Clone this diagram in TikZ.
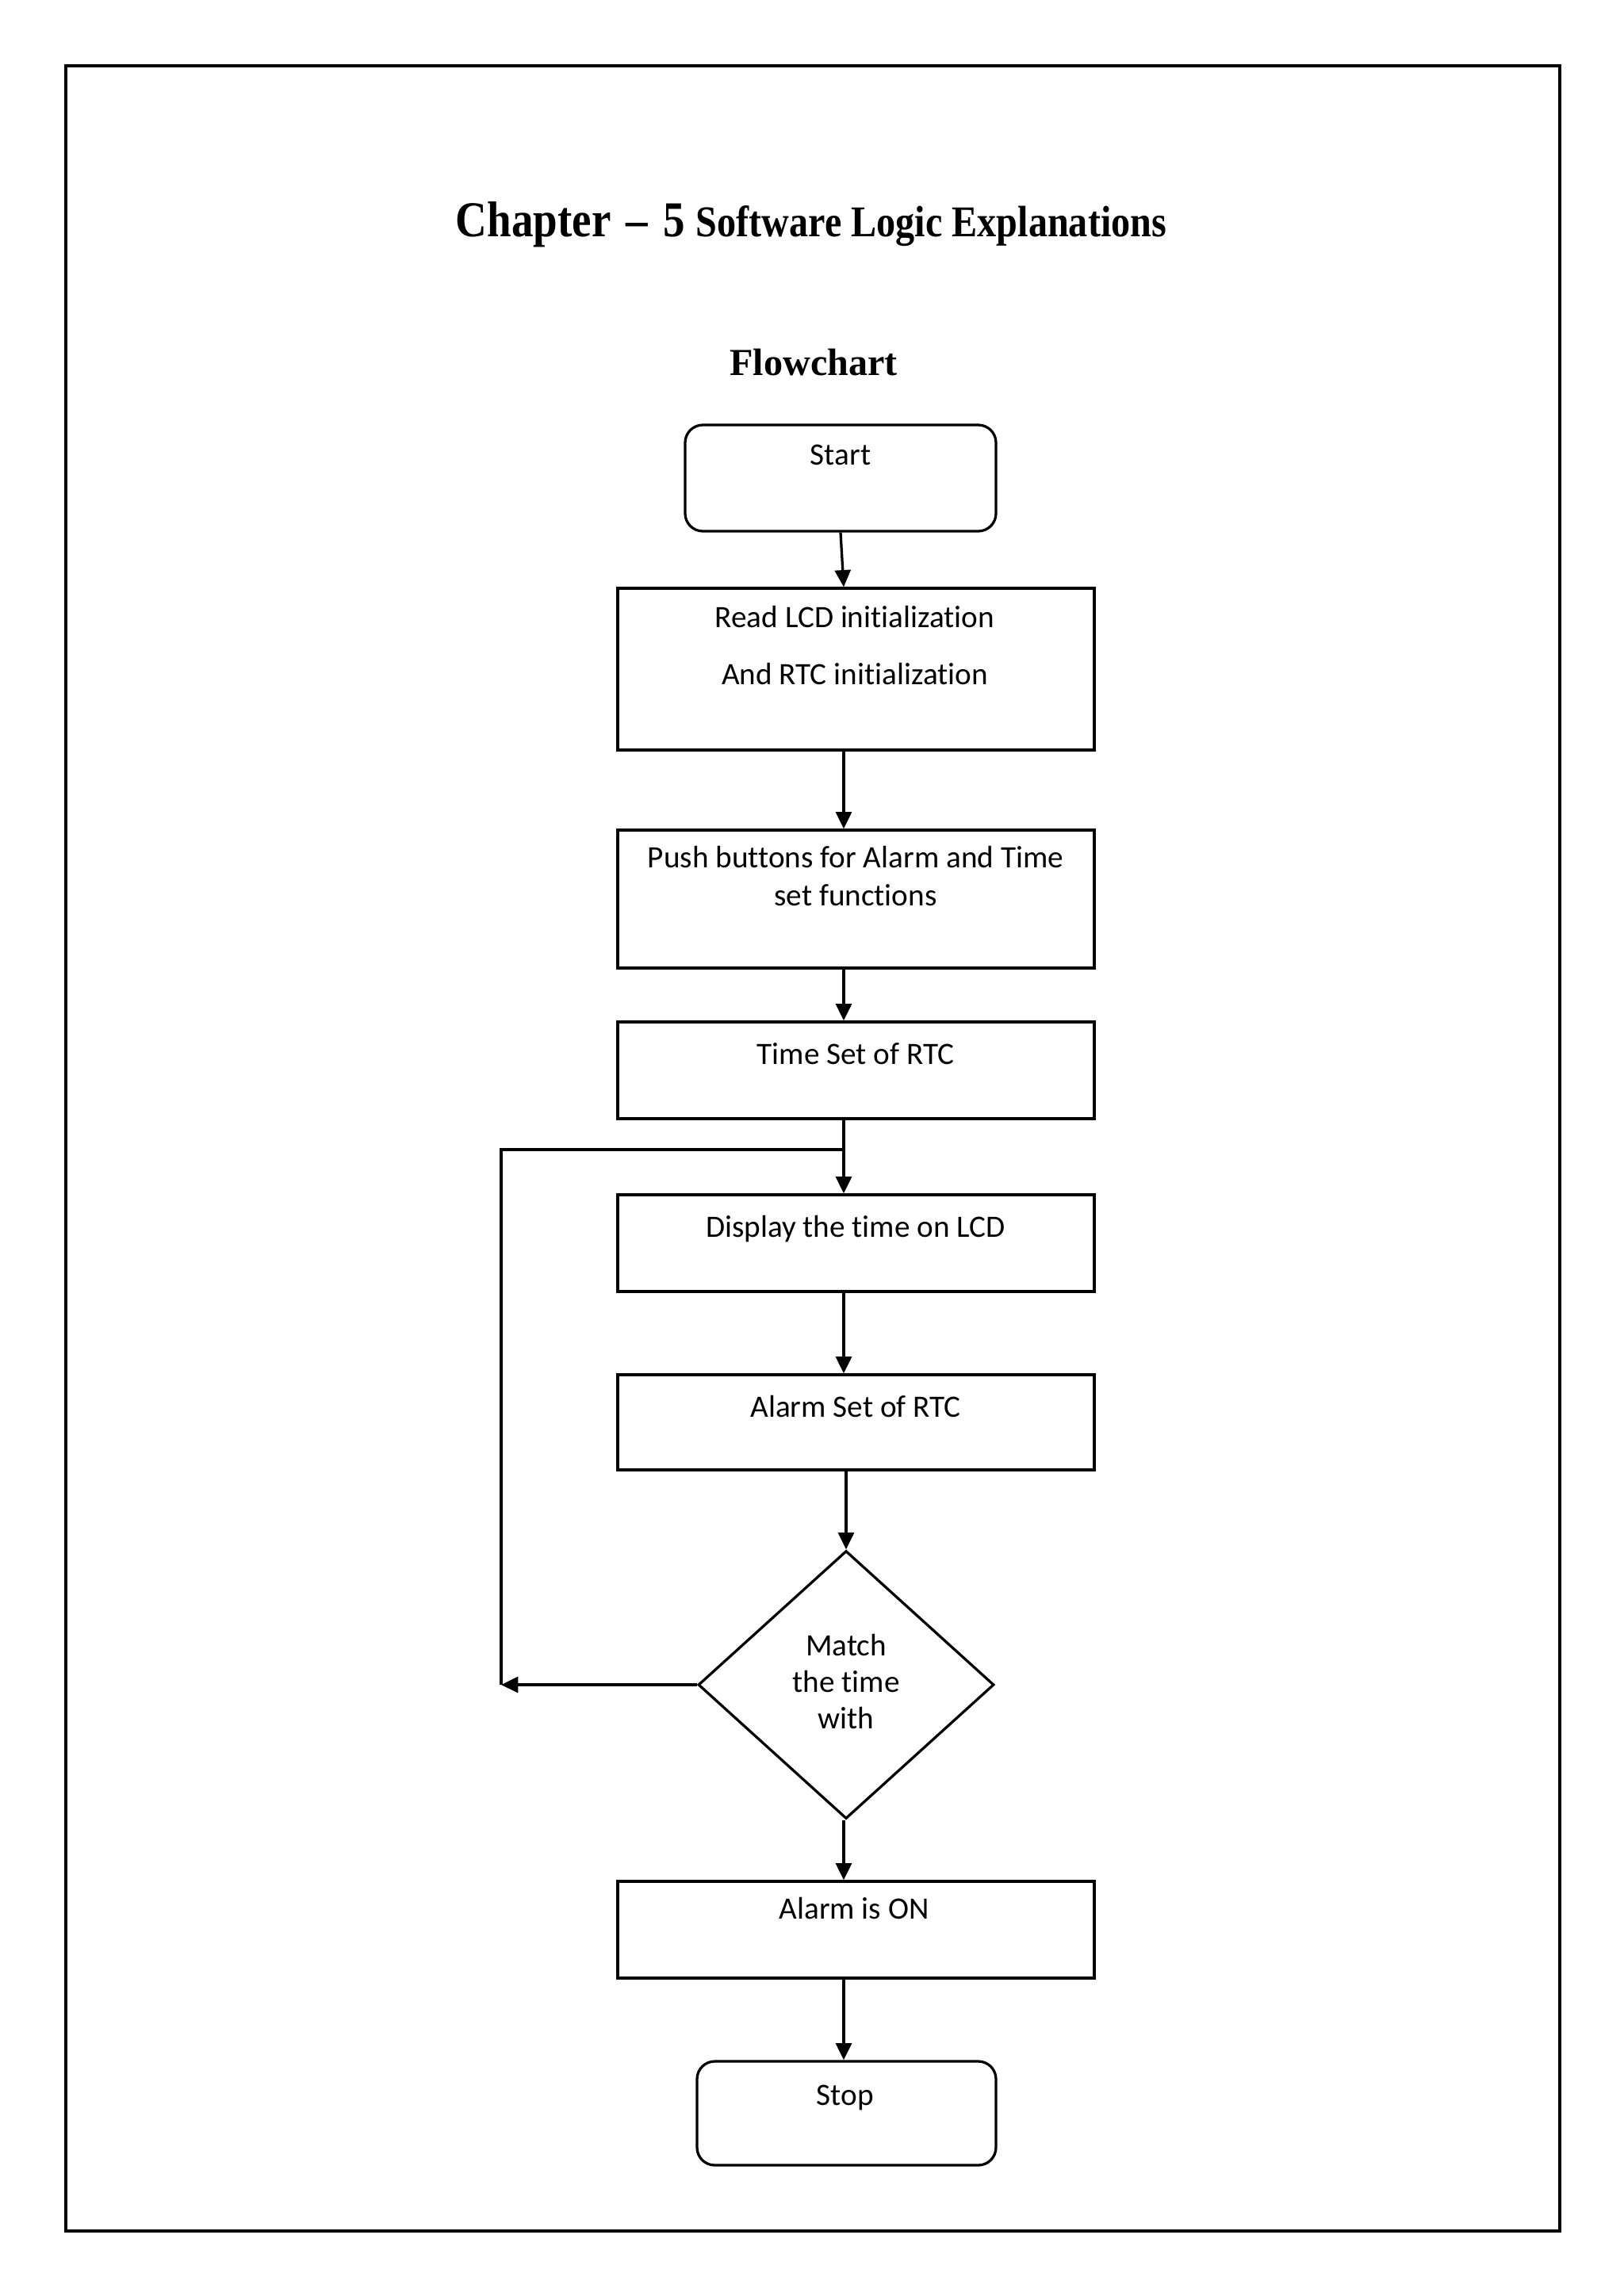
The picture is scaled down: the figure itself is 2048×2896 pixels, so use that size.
\documentclass[tikz,border=0pt]{standalone}
\usepackage{fontspec}
\setmainfont[RawFeature={-liga;-clig;-dlig}]{Carlito}
\newfontfamily\titlefont[Ligatures=TeX]{Liberation Serif}
\usetikzlibrary{arrows.meta,shapes.geometric}
\tikzset{
  boxline/.style={draw=black, line width=0.95pt},
  procbox/.style={boxline, rectangle, inner sep=0pt},
  termbox/.style={boxline, rectangle, rounded corners=6.5pt, inner sep=0pt},
  decbox/.style={boxline, diamond, inner sep=0pt},
  btxt/.style={anchor=base, inner sep=0pt, font=\fontsize{11.4}{13.8}\selectfont},
  arr/.style={line width=0.95pt, -{Triangle[length=6.2pt,width=5.8pt]}},
  plainline/.style={line width=0.95pt},
}
\begin{document}
\begin{tikzpicture}[x=0.2907pt, y=-0.2907pt]
\useasboundingbox (0,0) rectangle (2048,2896);
\fill[white] (0,0) rectangle (2048,2896);
\draw[line width=1.1pt] (83,83) rectangle (1967,2814);

% titles
\node[anchor=base, inner sep=0pt] (title) at (1023,298)
  {\scalebox{1}[1.15]{\titlefont\bfseries\fontsize{16}{19}\selectfont Chapter\hspace{0.35em}\textendash\hspace{0.35em}5 \fontsize{14}{17}\selectfont Software Logic Explanations}};
\node[anchor=base, inner sep=0pt] (fc) at (1026,473)
  {\titlefont\bfseries\fontsize{14}{17}\selectfont Flowchart};

% boxes
\node[termbox, minimum width=392*0.2907pt, minimum height=134*0.2907pt] (start) at (1060,603) {};
\node[procbox, minimum width=601*0.2907pt, minimum height=204*0.2907pt] (read) at (1079.5,844) {};
\node[procbox, minimum width=601*0.2907pt, minimum height=174*0.2907pt] (push) at (1079.5,1134) {};
\node[procbox, minimum width=601*0.2907pt, minimum height=122*0.2907pt] (tset) at (1079.5,1350) {};
\node[procbox, minimum width=601*0.2907pt, minimum height=122*0.2907pt] (disp) at (1079.5,1568) {};
\node[procbox, minimum width=601*0.2907pt, minimum height=120*0.2907pt] (aset) at (1079.5,1794) {};
\node[decbox, minimum width=373*0.2907pt, minimum height=338*0.2907pt] (dec) at (1067,2125) {};
\node[procbox, minimum width=601*0.2907pt, minimum height=122*0.2907pt] (aon) at (1079.5,2434) {};
\node[termbox, minimum width=377*0.2907pt, minimum height=131*0.2907pt] (stop) at (1067.5,2665.5) {};

% texts
\node[btxt] (tstart) at (1060,586) {Start};
\node[btxt] (tread1) at (1078,791) {Read LCD initialization};
\node[btxt] (tread2) at (1078,863) {And RTC initialization};
\node[btxt] (tpush1) at (1079,1094) {Push buttons for Alarm and Time};
\node[btxt] (tpush2) at (1079,1142) {set functions};
\node[btxt] (ttset) at (1079,1342) {Time Set of RTC};
\node[btxt] (tdisp) at (1079,1560) {Display the time on LCD};
\node[btxt] (taset) at (1079,1787) {Alarm Set of RTC};
\node[btxt] (tdec1) at (1067,2088) {Match};
\node[btxt] (tdec2) at (1067,2134) {the time};
\node[btxt] (tdec3) at (1067,2180) {with};
\node[btxt] (taon) at (1077,2420) {Alarm is ON};
\node[btxt] (tstop) at (1066,2655) {Stop};

% helper coordinates
\coordinate (ax) at (1064,0);
\coordinate (loopt) at (632,1450);

% connectors
\draw[arr] (start.south) -- (ax |- read.north);
\draw[arr] (ax |- read.south) -- (ax |- push.north);
\draw[arr] (ax |- push.south) -- (ax |- tset.north);
\draw[arr] (ax |- tset.south) -- (ax |- disp.north);
\draw[arr] (ax |- disp.south) -- (ax |- aset.north);
\draw[arr] (dec.north |- aset.south) -- (dec.north);
\draw[arr] (ax |- dec.south) -- (ax |- aon.north);
\draw[arr] (ax |- aon.south) -- (ax |- stop.north);
\draw[arr] (dec.west) -- (loopt |- dec.west);
\draw[plainline] (loopt |- dec.west) -- (loopt) -- (ax |- loopt);
\end{tikzpicture}
\end{document}
